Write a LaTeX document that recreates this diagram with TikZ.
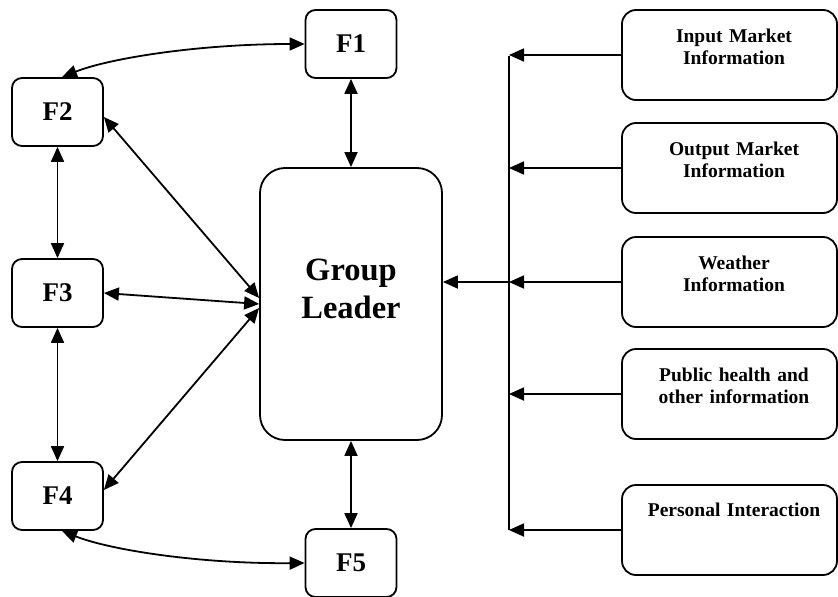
\documentclass[tikz,border=0pt]{standalone}
\usepackage{fontspec}
\setmainfont{Liberation Serif}
\usetikzlibrary{arrows.meta,calc}

\tikzset{
  x=1pt, y=-1pt,
  tip/.tip={Triangle[length=15pt,width=13pt]},
  farmer/.style={draw, line width=1.8pt, rounded corners=10pt,
    minimum width=91pt, minimum height=68pt, inner sep=0pt,
    font=\fontsize{27pt}{30pt}\selectfont\bfseries},
  leader/.style={draw, line width=1.8pt, rounded corners=25pt,
    minimum width=182pt, minimum height=272pt, inner sep=0pt},
  source/.style={draw, line width=1.8pt, rounded corners=14pt,
    minimum width=215pt, minimum height=90pt, inner sep=0pt},
  srctext/.style={anchor=base, inner sep=0pt, text width=210pt, align=center,
    font=\fontsize{19.5pt}{22.5pt}\selectfont\bfseries},
  leadtext/.style={anchor=base, inner sep=0pt, text width=180pt, align=center,
    font=\fontsize{32.5pt}{38pt}\selectfont\bfseries},
  link/.style={line width=1.8pt},
  both/.style={link, tip-tip},
  into/.style={link, -tip},
}

\begin{document}
\begin{tikzpicture}
\useasboundingbox (0,0) rectangle (838,597);

% farmers
\node[farmer] (F1) at (351,44)   {F1};
\node[farmer] (F2) at (57.5,112) {F2};
\node[farmer] (F3) at (57.5,293) {F3};
\node[farmer] (F4) at (57.5,496) {F4};
\node[farmer] (F5) at (351,563)  {F5};

% group leader
\node[leader] (GL) at (351,304) {};
\node[leadtext] (GLt) at ([yshift=24pt]GL.center) {Group\\Leader};

% information sources
\node[source] (IM) at (729.5,55)  {};
\node[source] (OM) at (729.5,168) {};
\node[source] (WI) at (729.5,282) {};
\node[source] (PH) at (729.5,394) {};
\node[source] (PI) at (729.5,530) {};

\node[srctext] (IMt) at ([xshift=4.5pt,yshift=-33pt]IM.north) {Input Market\\Information};
\node[srctext] (OMt) at ([xshift=4.5pt,yshift=-33pt]OM.north) {Output Market\\Information};
\node[srctext] (WIt) at ([xshift=4.5pt,yshift=-33pt]WI.north) {Weather\\Information};
\node[srctext] (PHt) at ([xshift=4.5pt,yshift=-33pt]PH.north) {Public health and\\other information};
\node[srctext] (PIt) at ([xshift=4.5pt,yshift=-32pt]PI.north) {Personal Interaction};

% collecting bus
\coordinate (busTop) at (509,56);
\coordinate (busBot) at (509,530);
\coordinate (hub) at (WI.west -| busTop);
\draw[link] (busTop) -- (busBot);
\draw[into] (IM.west) -- (IM.west -| busTop);
\draw[into] (OM.west) -- (OM.west -| busTop);
\draw[into] (WI.west) -- (hub);
\draw[into] (PH.west) -- (PH.west -| busTop);
\draw[into] (PI.west) -- (PI.west -| busTop);
\draw[into] (hub) -- (GL.east |- hub);

% leader to farmers
\draw[both] (F1.south) -- (F1.south |- GL.north);
\draw[both] (GL.south) -- (GL.south |- F5.north);
\draw[both] ([yshift=-5pt]F2.east) -- ([yshift=6pt]GL.west);
\draw[both] (F3.east) -- (GL.west);
\draw[both] ([yshift=6pt]F4.east) -- ([yshift=-4pt]GL.west);

% farmer chain
\draw[both] (F2.south) -- (F3.north);
\draw[both] (F3.south) -- (F4.north);
\draw[both] ([xshift=4.5pt]F2.north) .. controls (110,58) and (200,44) .. (F1.west);
\draw[both] ([xshift=4.5pt]F4.south) .. controls (110,550) and (200,564) .. (F5.west);
\end{tikzpicture}
\end{document}
